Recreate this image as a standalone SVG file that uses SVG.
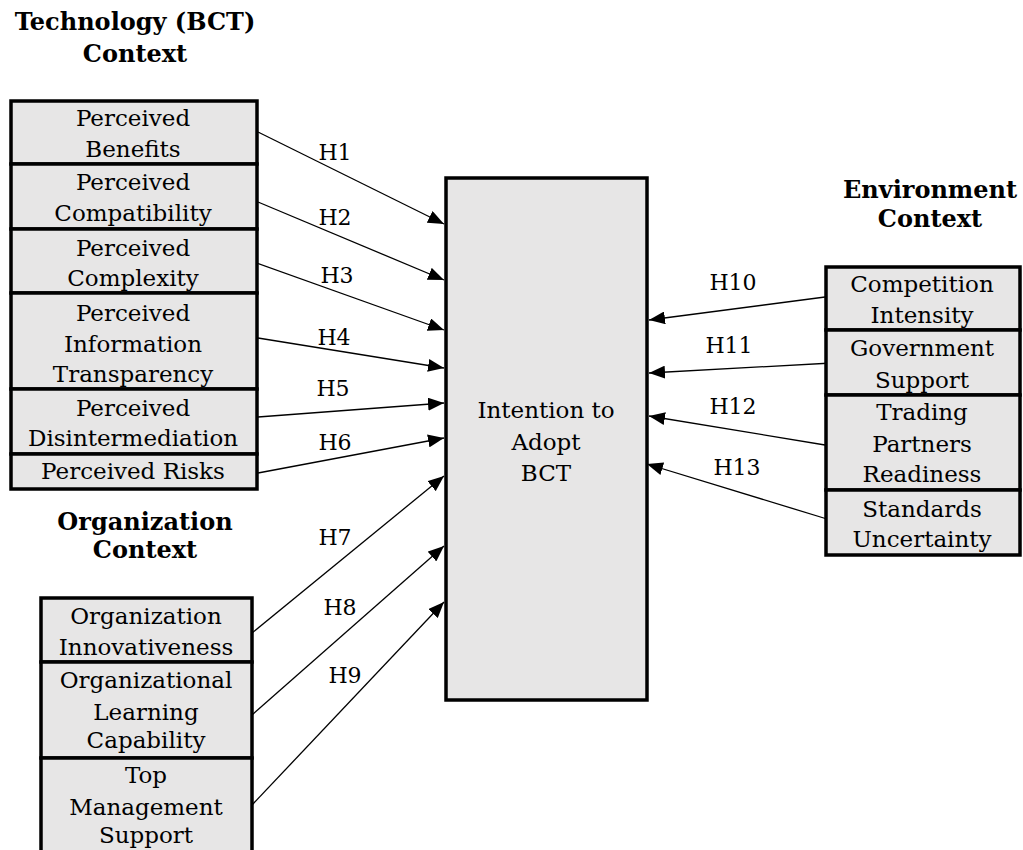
<svg xmlns="http://www.w3.org/2000/svg" width="1023" height="850" viewBox="0 0 1023 850">
<defs>
<style>
.box{fill:#e7e6e6;stroke:#000;stroke-width:3.5}
.t{font-family:"DejaVu Serif","Liberation Serif",serif;font-size:23px;fill:#000;text-anchor:middle}
.h{font-family:"DejaVu Serif","Liberation Serif",serif;font-size:24px;font-weight:bold;fill:#000;text-anchor:middle}
.lab{font-family:"DejaVu Serif","Liberation Serif",serif;font-size:22px;fill:#000;text-anchor:middle}
.c{stroke:#000;stroke-width:1.3;fill:none;marker-end:url(#ah)}
</style>
<marker id="ah" markerUnits="userSpaceOnUse" markerWidth="17" markerHeight="13" refX="16" refY="6.5" orient="auto"><path d="M0,0 L16,6.5 L0,13 z" fill="#000"/></marker>
</defs>
<rect width="1023" height="850" fill="#fff"/>

<g id="headings">
<text class="h" x="135" y="30">Technology (BCT)</text>
<text class="h" x="135" y="62">Context</text>
<text class="h" x="930" y="198">Environment</text>
<text class="h" x="930" y="227">Context</text>
<text class="h" x="145" y="530">Organization</text>
<text class="h" x="145" y="558">Context</text>
</g>

<g id="connectors">
<line class="c" x1="258" y1="132" x2="444" y2="224"/>
<line class="c" x1="258" y1="202" x2="444" y2="280"/>
<line class="c" x1="254" y1="262" x2="444" y2="330"/>
<line class="c" x1="258" y1="338" x2="444" y2="368"/>
<line class="c" x1="258" y1="417" x2="444" y2="403"/>
<line class="c" x1="258" y1="473" x2="444" y2="438"/>
<line class="c" x1="252" y1="633" x2="444" y2="476"/>
<line class="c" x1="252" y1="715" x2="444" y2="546"/>
<line class="c" x1="252" y1="805" x2="444" y2="602"/>
<line class="c" x1="825" y1="297" x2="649" y2="320"/>
<line class="c" x1="832" y1="363" x2="649" y2="373"/>
<line class="c" x1="825" y1="445" x2="649" y2="416"/>
<line class="c" x1="827" y1="519" x2="647" y2="464"/>
<text class="lab" x="335" y="160">H1</text>
<text class="lab" x="335" y="225">H2</text>
<text class="lab" x="337" y="283">H3</text>
<text class="lab" x="334" y="345">H4</text>
<text class="lab" x="333" y="396">H5</text>
<text class="lab" x="335" y="450">H6</text>
<text class="lab" x="335" y="545">H7</text>
<text class="lab" x="340" y="615">H8</text>
<text class="lab" x="345" y="683">H9</text>
<text class="lab" x="733" y="290">H10</text>
<text class="lab" x="729" y="353">H11</text>
<text class="lab" x="733" y="414">H12</text>
<text class="lab" x="737" y="475">H13</text>
</g>

<g id="center">
<rect class="box" x="446" y="178" width="201" height="522"/>
<text class="t" x="546" y="418">Intention to</text>
<text class="t" x="546" y="450">Adopt</text>
<text class="t" x="546" y="481">BCT</text>
</g>

<g id="tech1"><rect class="box" x="11" y="101" width="246" height="63"/>
<text class="t" x="133" y="126">Perceived</text><text class="t" x="133" y="157">Benefits</text></g>
<g id="tech2"><rect class="box" x="11" y="164" width="246" height="65"/>
<text class="t" x="133" y="190">Perceived</text><text class="t" x="133" y="221">Compatibility</text></g>
<g id="tech3"><rect class="box" x="11" y="229" width="246" height="64"/>
<text class="t" x="133" y="256">Perceived</text><text class="t" x="133" y="286">Complexity</text></g>
<g id="tech4"><rect class="box" x="11" y="293" width="246" height="96"/>
<text class="t" x="133" y="321">Perceived</text><text class="t" x="133" y="352">Information</text><text class="t" x="133" y="382">Transparency</text></g>
<g id="tech5"><rect class="box" x="11" y="389" width="246" height="65"/>
<text class="t" x="133" y="416">Perceived</text><text class="t" x="133" y="446">Disintermediation</text></g>
<g id="tech6"><rect class="box" x="11" y="454" width="246" height="35"/>
<text class="t" x="133" y="479">Perceived Risks</text></g>

<g id="org1"><rect class="box" x="41" y="598" width="211" height="64"/>
<text class="t" x="146" y="624">Organization</text><text class="t" x="146" y="655">Innovativeness</text></g>
<g id="org2"><rect class="box" x="41" y="662" width="211" height="96"/>
<text class="t" x="146" y="688">Organizational</text><text class="t" x="146" y="720">Learning</text><text class="t" x="146" y="748">Capability</text></g>
<g id="org3"><rect class="box" x="41" y="758" width="211" height="100"/>
<text class="t" x="146" y="783">Top</text><text class="t" x="146" y="815">Management</text><text class="t" x="146" y="843">Support</text></g>

<g id="env1"><rect class="box" x="826" y="267" width="194" height="63"/>
<text class="t" x="922" y="292">Competition</text><text class="t" x="922" y="323">Intensity</text></g>
<g id="env2"><rect class="box" x="826" y="330" width="194" height="65"/>
<text class="t" x="922" y="356">Government</text><text class="t" x="922" y="388">Support</text></g>
<g id="env3"><rect class="box" x="826" y="395" width="194" height="95"/>
<text class="t" x="922" y="420">Trading</text><text class="t" x="922" y="452">Partners</text><text class="t" x="922" y="482">Readiness</text></g>
<g id="env4"><rect class="box" x="826" y="490" width="194" height="65"/>
<text class="t" x="922" y="517">Standards</text><text class="t" x="922" y="547">Uncertainty</text></g>
</svg>
